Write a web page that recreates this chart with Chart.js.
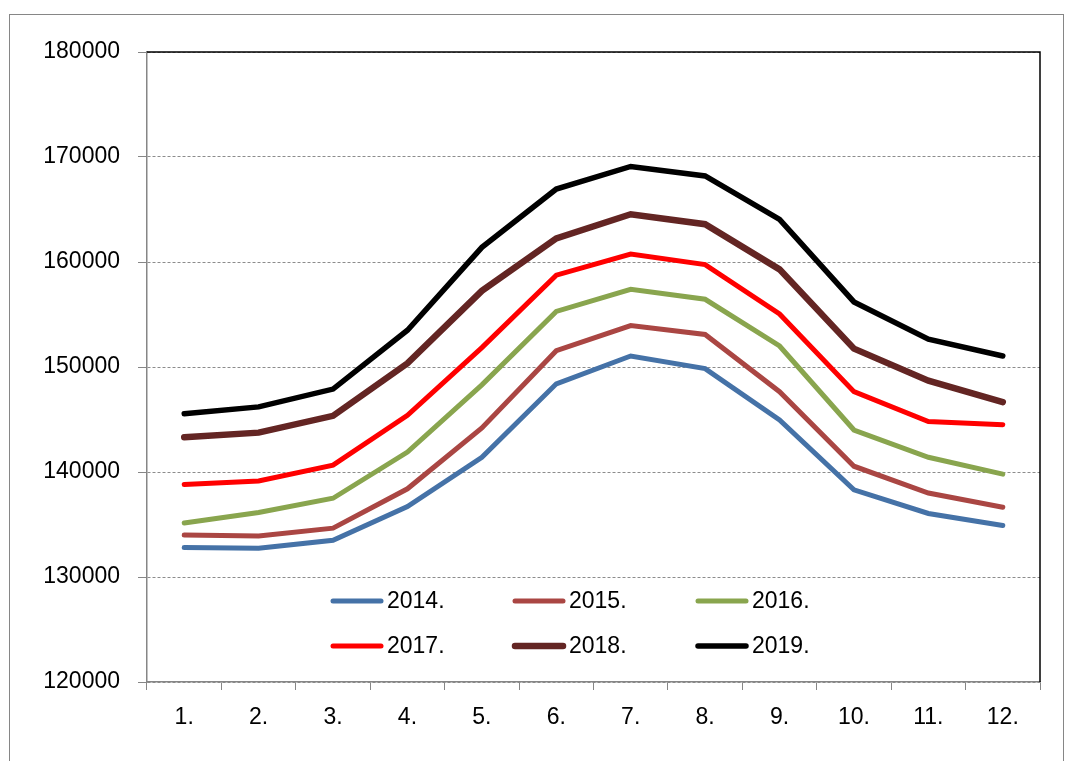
<!DOCTYPE html>
<html>
<head>
<meta charset="utf-8">
<script src="https://cdn.jsdelivr.net/npm/chart.js@4.4.1/dist/chart.umd.min.js"></script>
<style>
  body { margin: 0; background: #fff; }
  #wrap { position: relative; width: 1065px; height: 761px; overflow: hidden; }
  #frame { position: absolute; left: 9px; top: 14px; width: 1053px; height: 800px;
           border: 1px solid #868686; pointer-events: none; }
</style>
</head>
<body>
<div id="wrap">
  <canvas id="chart" width="1065" height="761"></canvas>
  <div id="frame"></div>
</div>
<script>
const months = ["1.", "2.", "3.", "4.", "5.", "6.", "7.", "8.", "9.", "10.", "11.", "12."];
const years = ["2014.", "2015.", "2016.", "2017.", "2018.", "2019."];

const v2014 = [132800, 132750, 133500, 136700, 141400, 148400, 151050, 149850, 144950, 138300, 136050, 134900];
const v2015 = [134000, 133900, 134650, 138400, 144200, 151550, 153950, 153100, 147650, 140550, 138000, 136650];
const v2016 = [135150, 136150, 137500, 141900, 148300, 155300, 157400, 156450, 152000, 144000, 141400, 139800];
const v2017 = [138800, 139150, 140650, 145400, 151850, 158750, 160750, 159750, 155050, 147650, 144800, 144500];
const v2018 = [143300, 143750, 145350, 150350, 157250, 162250, 164550, 163600, 159300, 151750, 148700, 146650];
const v2019 = [145550, 146200, 147900, 153500, 161400, 166950, 169100, 168200, 164050, 156200, 152650, 151050];

const colors = ["#4572A7", "#AA4643", "#89A54E", "#FF0000", "#632523", "#000000"];
const widths = [5, 5, 5, 5, 6.5, 5.5];
const series = [v2014, v2015, v2016, v2017, v2018, v2019];

const FONT = "'Liberation Sans', Arial, sans-serif";

// legend drawn inside the plot area, 3 columns x 2 rows
const innerLegend = {
  id: "innerLegend",
  afterDatasetsDraw(chart) {
    const { ctx, chartArea } = chart;
    const colX = [184, 366, 549];
    const rowY = [549, 594];
    ctx.save();
    ctx.font = "23px " + FONT;
    ctx.textBaseline = "middle";
    chart.data.datasets.forEach((ds, i) => {
      const x = chartArea.left + colX[i % 3];
      const y = chartArea.top + rowY[Math.floor(i / 3)];
      ctx.strokeStyle = ds.borderColor;
      ctx.lineWidth = ds.borderWidth;
      ctx.lineCap = "round";
      ctx.beginPath();
      ctx.moveTo(x + 2, y);
      ctx.lineTo(x + 50, y);
      ctx.stroke();
      ctx.fillStyle = "#000";
      ctx.fillText(ds.label, x + 56, y + 1);
    });
    ctx.restore();
  }
};

// black top and right edges of the plot area
const plotEdges = {
  id: "plotEdges",
  beforeDatasetsDraw(chart) {
    const { ctx, chartArea: a } = chart;
    ctx.save();
    ctx.strokeStyle = "#000";
    ctx.lineWidth = 1.5;
    ctx.beginPath();
    ctx.moveTo(a.left, a.top);
    ctx.lineTo(a.right, a.top);
    ctx.lineTo(a.right, a.bottom);
    ctx.stroke();
    ctx.restore();
  }
};

new Chart(document.getElementById("chart"), {
  type: "line",
  data: {
    labels: months,
    datasets: series.map((d, i) => ({
      label: years[i],
      data: d,
      borderColor: colors[i],
      backgroundColor: colors[i],
      borderWidth: widths[i],
      pointRadius: 0,
      tension: 0,
      borderCapStyle: "round",
      borderJoinStyle: "miter",
      fill: false
    }))
  },
  options: {
    responsive: false,
    animation: false,
    layout: { padding: { top: 52, right: 25, left: 0, bottom: 0 } },
    plugins: {
      legend: { display: false },
      tooltip: { enabled: false }
    },
    scales: {
      x: {
        offset: true,
        grid: {
          offset: true,
          drawOnChartArea: false,
          drawTicks: true,
          tickLength: 8,
          tickColor: "#868686",
          tickBorderDash: []
        },
        border: { color: "#868686", width: 1.5 },
        ticks: {
          color: "#000",
          font: { family: FONT, size: 23 },
          padding: 14,
          maxRotation: 0,
          autoSkip: false
        },
        afterFit(scale) { scale.height = 79; }
      },
      y: {
        min: 120000,
        max: 180000,
        grid: {
          color: "#8c8c8c",
          lineWidth: 1,
          tickLength: 9,
          tickColor: "#868686",
          tickBorderDash: []
        },
        border: { color: "#868686", width: 1.5, dash: [3, 2] },
        ticks: {
          stepSize: 10000,
          color: "#000",
          font: { family: FONT, size: 23 },
          padding: 18,
          callback: (v) => String(v)
        },
        afterFit(scale) { scale.width = 147; }
      }
    }
  },
  plugins: [plotEdges, innerLegend]
});
</script>
</body>
</html>
